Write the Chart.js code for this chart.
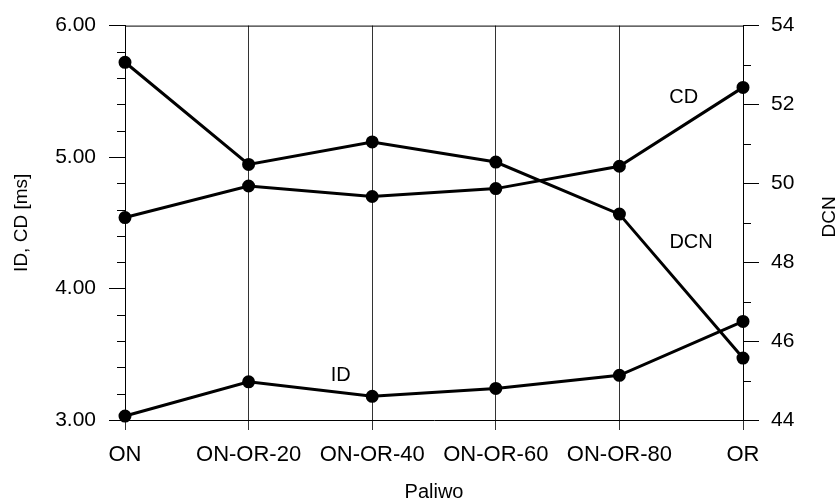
<!DOCTYPE html>
<html>
<head>
<meta charset="utf-8">
<script src="https://cdn.jsdelivr.net/npm/chart.js@4"></script>
<style>
  html, body { margin: 0; padding: 0; background: #fff; }
  #wrap { width: 837px; height: 502px; position: relative; }
</style>
</head>
<body>
<div id="wrap"><canvas id="c"></canvas></div>
<script>
// ID / CD (lewa oś, ms) i DCN (prawa oś) dla paliw ON ... OR
var FUELS = ["ON", "ON-OR-20", "ON-OR-40", "ON-OR-60", "ON-OR-80", "OR"];
var ID_MS = [3.03, 3.29, 3.18, 3.24, 3.34, 3.75];
var CD_MS = [4.54, 4.78, 4.70, 4.76, 4.93, 5.53];
var DCN = [53.07, 50.48, 51.05, 50.54, 49.22, 45.57];

var FONT = "'Liberation Sans', Arial, Helvetica, sans-serif";

// podpisy serii przy liniach: [tekst, indeks kategorii, wartość, oś]
var LABELS = [
    ["CD", 4.52, 5.45, "y"],
    ["DCN", 4.58, 48.5, "y2"],
    ["ID", 1.745, 3.34, "y"]
];

function series(data, axis) {
    return {
        data: data,
        yAxisID: axis,
        borderColor: "#000",
        backgroundColor: "#000",
        borderWidth: 3,
        pointRadius: 5,
        pointHoverRadius: 5,
        tension: 0,
        clip: false
    };
}

// małe podziałki, górna ramka, podpisy serii, tytuł prawej osi
var extras = {
    id: "extras",
    afterDraw: function (chart) {
        var ctx = chart.ctx, a = chart.chartArea, s = chart.scales;
        ctx.save();
        ctx.strokeStyle = "#000";
        ctx.lineWidth = 1;
        ctx.beginPath();
        ctx.moveTo(a.left, a.top + 0.5);
        ctx.lineTo(a.right, a.top + 0.5);
        var v, y;
        for (v = 3.2; v < 6; v += 0.2) {
            if (Math.abs(v - Math.round(v)) < 0.01) continue;
            y = Math.round(s.y.getPixelForValue(v)) + 0.5;
            ctx.moveTo(a.left - 8, y);
            ctx.lineTo(a.left, y);
        }
        for (v = 45; v < 54; v += 2) {
            y = Math.round(s.y2.getPixelForValue(v)) + 0.5;
            ctx.moveTo(a.right, y);
            ctx.lineTo(a.right + 8, y);
        }
        ctx.stroke();

        ctx.fillStyle = "#000";
        ctx.textAlign = "center";
        ctx.textBaseline = "middle";
        ctx.font = "20px " + FONT;
        LABELS.forEach(function (l) {
            ctx.fillText(l[0], s.x.getPixelForValue(l[1]), s[l[3]].getPixelForValue(l[2]));
        });

        ctx.font = "19px " + FONT;
        ctx.translate(830, (a.top + a.bottom) / 2 - 6);
        ctx.rotate(-Math.PI / 2);
        ctx.fillText("DCN", 0, 0);
        ctx.restore();
    }
};

new Chart(document.getElementById("c").getContext("2d"), {
    type: "line",
    data: {
        labels: FUELS,
        datasets: [series(DCN, "y2"), series(CD_MS, "y"), series(ID_MS, "y")]
    },
    options: {
        responsive: true,
        maintainAspectRatio: false,
        animation: false,
        layout: { padding: { top: 24, left: 0, right: 0, bottom: 0 } },
        plugins: { legend: { display: false }, tooltip: { enabled: false } },
        scales: {
            x: {
                type: "category",
                offset: false,
                afterFit: function (sc) { sc.height = 82; },
                grid: { color: "#333", lineWidth: 1, tickLength: 10, drawOnChartArea: true },
                border: { color: "#000", width: 1 },
                ticks: { color: "#000", padding: 14, font: { family: FONT, size: 22, lineHeight: 1 }, maxRotation: 0, autoSkip: false },
                title: { display: true, text: "Paliwo", color: "#000",
                         font: { family: FONT, size: 20, lineHeight: 1 }, padding: { top: 0, bottom: 0 } }
            },
            y: {
                position: "left",
                min: 3, max: 6,
                afterFit: function (sc) { sc.width = 125; },
                grid: { drawOnChartArea: false, color: "#000", tickLength: 16 },
                border: { color: "#000", width: 1 },
                ticks: { stepSize: 1, color: "#000", padding: 13, font: { family: FONT, size: 21 },
                         callback: function (v) { return v.toFixed(2); } },
                title: { display: true, text: "ID, CD [ms]", color: "#000",
                         font: { family: FONT, size: 19, lineHeight: 1 }, padding: { top: 12, bottom: 0 } }
            },
            y2: {
                position: "right",
                min: 44, max: 54,
                afterFit: function (sc) { sc.width = 94; },
                grid: { drawOnChartArea: false, color: "#000", tickLength: 16 },
                border: { color: "#000", width: 1 },
                ticks: { stepSize: 2, color: "#000", padding: 12, font: { family: FONT, size: 21 } }
            }
        }
    },
    plugins: [extras]
});
</script>
</body>
</html>
